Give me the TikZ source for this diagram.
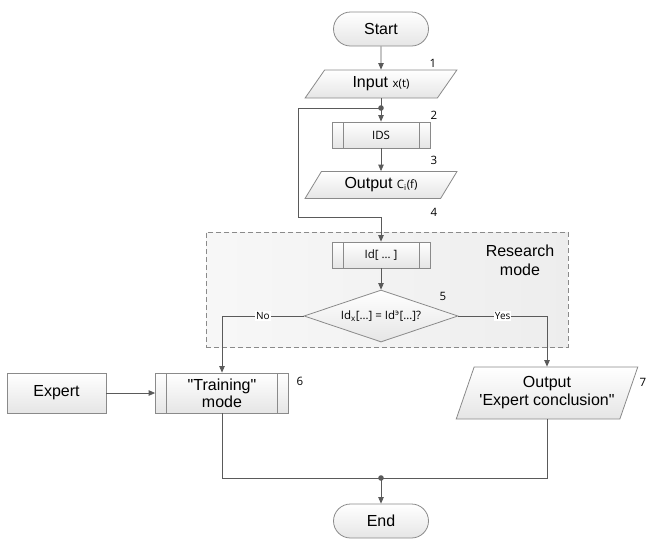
\documentclass[tikz,border=0pt]{standalone}
\usepackage{fontspec}
\setmainfont{Liberation Sans}[Ligatures=TeXOff]
\newfontfamily\segoe{Open Sans}
\usetikzlibrary{shapes.geometric,shapes.misc,arrows.meta}
\definecolor{edge}{HTML}{8A8A8A}
\definecolor{wire}{HTML}{5A5A5A}
\newcommand{\lbl}{\fontsize{16}{19}\selectfont}
\newcommand{\sml}{\segoe\fontsize{11.5}{13}\selectfont}
\newcommand{\tny}{\segoe\fontsize{10}{12}\selectfont}

\begin{document}
\begin{tikzpicture}[x=1pt, y=-1pt,
		box/.style={draw=edge, line width=0.8pt, top color=white, bottom color=black!10, font=\lbl, inner sep=1pt},
		term/.style={box, rounded rectangle, minimum width=97, minimum height=34},
		io/.style={box, trapezium, trapezium left angle=58, trapezium right angle=122, trapezium stretches=true},
		proc/.style={box, rectangle, path picture={
			\draw[edge, line width=0.8pt] ([xshift=11pt]path picture bounding box.north west) -- ([xshift=11pt]path picture bounding box.south west)
				([xshift=-11pt]path picture bounding box.north east) -- ([xshift=-11pt]path picture bounding box.south east);}},
		test/.style={box, diamond, aspect=3, inner sep=0pt, minimum width=154, minimum height=52, font=\sml},
		num/.style={font=\sml, inner sep=0pt},
		tag/.style={font=\tny, fill=white, inner sep=1pt},
		line/.style={draw=wire, line width=0.8pt},
		arrow/.style={line, -{Triangle[length=6.5pt, width=5.5pt]}}]
	\useasboundingbox (0,0) rectangle (646,539);

	\node[draw=edge, line width=1pt, dash pattern=on 5pt off 3pt, left color=black!3, right color=black!7,
		minimum width=362, minimum height=115, inner sep=0pt] (research) at (387,289.5) {};
	\node[font=\lbl, align=center] (researchtext) at (520,260) {Research\\mode};

	\node[term] (start) at (381,29) {Start};
	\node[io, minimum width=152, minimum height=28] (input) at (381,84) {Input {\sml x(t)}};
	\coordinate (split) at (381,108);
	\node[proc, minimum width=98, minimum height=26, font=\sml] (ids) at (381,135) {IDS};
	\node[io, minimum width=153, minimum height=27] (outc) at (381,185) {Output {\sml C\textsubscript{i}(f)}};
	\coordinate (loopa) at (298,108);
	\coordinate (loopb) at (298,217);
	\coordinate (loopc) at (381,217);
	\node[proc, minimum width=98, minimum height=26, font=\sml] (id) at (381,255) {Id[ … ]};
	\node[test] (check) at (381,316) {Id\textsubscript{x}[…] = Id\textsuperscript{э}[…]?};
	\node[box, minimum width=99, minimum height=40] (expert) at (56.5,393) {Expert};
	\node[proc, minimum width=133, minimum height=40, align=center, font=\fontsize{16}{17}\selectfont] (train) at (222,393) {"Training"\\mode};
	\node[io, trapezium left angle=64, trapezium right angle=116, minimum width=182, minimum height=52, align=center,
		font=\fontsize{16}{18}\selectfont] (result) at (547,393) {Output\\'Expert conclusion"};
	\coordinate (join) at (381,478);
	\node[term] (end) at (381,521) {End};

	\node[num] (n1) at (433,63) {1};
	\node[num] (n2) at (434,115) {2};
	\node[num] (n3) at (434,160) {3};
	\node[num] (n4) at (434,212) {4};
	\node[num] (n5) at (443,296) {5};
	\node[num] (n6) at (300,381) {6};
	\node[num] (n7) at (643,382) {7};

	\draw[arrow] (start) -- (input);
	\draw[line] (input) -- (split);
	\draw[arrow] (split) -- (ids);
	\draw[arrow] (ids) -- (outc);
	\draw[arrow] (split) -- (loopa) -- (loopb) -- (loopc) -- (id);
	\draw[arrow] (id) -- (check);
	\draw[arrow] (check.west) -| node[tag, pos=0.25] {No} (train.north);
	\draw[arrow] (check.east) -| node[tag, pos=0.25] {Yes} (result.north);
	\draw[arrow] (expert) -- (train);
	\draw[line] (train.south) |- (join);
	\draw[line] (result.south) |- (join);
	\draw[arrow] (join) -- (end);
	\fill[wire] (split) circle (2.8);
	\fill[wire] (join) circle (2.8);
\end{tikzpicture}
\end{document}
